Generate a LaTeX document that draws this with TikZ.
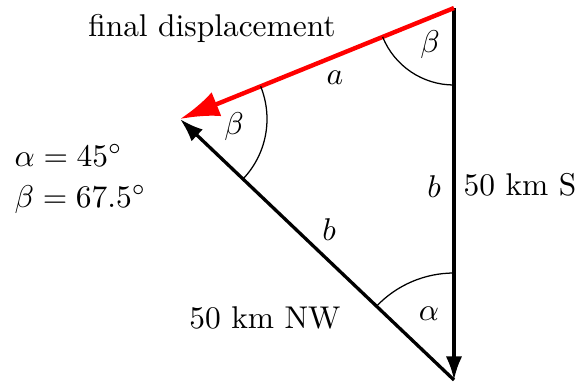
\documentclass[tikz,border=0pt]{standalone}
\usetikzlibrary{arrows.meta,angles}
\begin{document}
\begin{tikzpicture}[x=0.318pt,y=0.318pt,
  vec/.style={line width=1.05pt,-{Latex[length=7.5pt,width=5.2pt]}},
  redvec/.style={line width=1.4pt,red,-{Latex[length=12.5pt,width=8.2pt]}},
  angarc/.style={draw,line width=0.4pt},
  lbl/.style={inner sep=0pt}]
\useasboundingbox (0,0) rectangle (579,383);
\coordinate (T) at (454,375);
\coordinate (B) at (454,3);
\coordinate (L) at (180,264);
\draw[vec] (T) -- (B);
\draw[vec] (B) -- (L);
\draw[redvec] (T) -- (L);
\pic[angarc, angle radius=77*0.318pt] {angle = L--T--B};
\pic[angarc, angle radius=87*0.318pt] {angle = B--L--T};
\pic[angarc, angle radius=107*0.318pt] {angle = T--B--L};
\node[lbl] (fd) at (212,355) {final displacement};
\node[lbl] (bt) at (430,338) {$\beta$};
\node[lbl] (a) at (335,305) {$a$};
\node[lbl] (bl) at (234,256) {$\beta$};
\node[lbl] (b1) at (434,196) {$b$};
\node[lbl,anchor=west] (s) at (463,198) {50 km S};
\node[lbl] (b2) at (329,153) {$b$};
\node[lbl] (nw) at (265,65) {50 km NW};
\node[lbl] (al) at (429,69) {$\alpha$};
\node[lbl,anchor=west,align=left] (vals) at (14,204) {$\alpha=45^\circ$\\[1pt]$\beta=67.5^\circ$};
\end{tikzpicture}
\end{document}
